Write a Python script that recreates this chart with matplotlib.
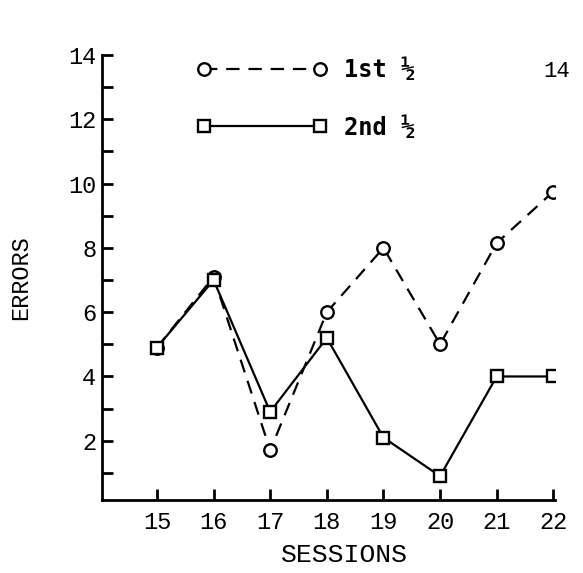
import matplotlib
matplotlib.use("Agg")
import matplotlib.pyplot as plt

sessions = [15, 16, 17, 18, 19, 20, 21, 22]
first_half = [4.9, 7.1, 1.7, 6.0, 8.0, 5.0, 8.15, 9.75]
second_half = [4.9, 7.0, 2.9, 5.2, 2.1, 0.9, 4.0, 4.0]
xtick_labels = ["15", "16", "17", "18", "19", "20", "21", "22"]
ytick_values = [2, 4, 6, 8, 10, 12, 14]

mono = "Liberation Mono"

fig = plt.figure(figsize=(5.83, 5.73), dpi=100)
ax = fig.add_axes([0.175, 0.127, 0.777, 0.777])

ax.plot(sessions, first_half, color="black", lw=1.6, ls=(0, (6, 4)),
        marker="o", ms=9, mfc="white", mec="black", mew=1.7, label="1st ½")
ax.plot(sessions, second_half, color="black", lw=1.6, ls="-",
        marker="s", ms=9, mfc="white", mec="black", mew=1.7, label="2nd ½")

ax.set_xlim(14.03, 22.03)
ax.set_ylim(0.15, 14)

ax.spines["top"].set_visible(False)
ax.spines["right"].set_visible(False)
ax.spines["left"].set_linewidth(2)
ax.spines["bottom"].set_linewidth(2)

ax.set_xticks(sessions)
ax.set_xticklabels(xtick_labels, fontfamily=mono, fontsize=17)
ax.set_yticks(ytick_values)
ax.set_yticklabels([str(v) for v in ytick_values], fontfamily=mono, fontsize=17)
ax.set_yticks(range(1, 14), minor=True)
ax.tick_params(axis="both", which="both", direction="in", width=2)
ax.tick_params(axis="both", which="major", length=8)
ax.tick_params(axis="x", which="major", pad=8)
ax.tick_params(axis="y", which="major", pad=4)
ax.tick_params(axis="y", which="minor", length=8)

ax.set_xlabel("SESSIONS", fontfamily=mono, fontsize=19, labelpad=6, x=0.536)
ax.set_ylabel("ERRORS", fontfamily=mono, fontsize=17, labelpad=26)

leg = ax.legend(loc="upper left", bbox_to_anchor=(0.163, 1.04), frameon=False,
                numpoints=2, handlelength=5.5, handletextpad=0.7,
                labelspacing=1.4, prop={"family": "DejaVu Sans Mono",
                                        "weight": "bold", "size": 17})

fig.text(0.955, 0.866, "14", fontfamily=mono, fontsize=16, ha="center")

fig.savefig("out.png", dpi=100)
